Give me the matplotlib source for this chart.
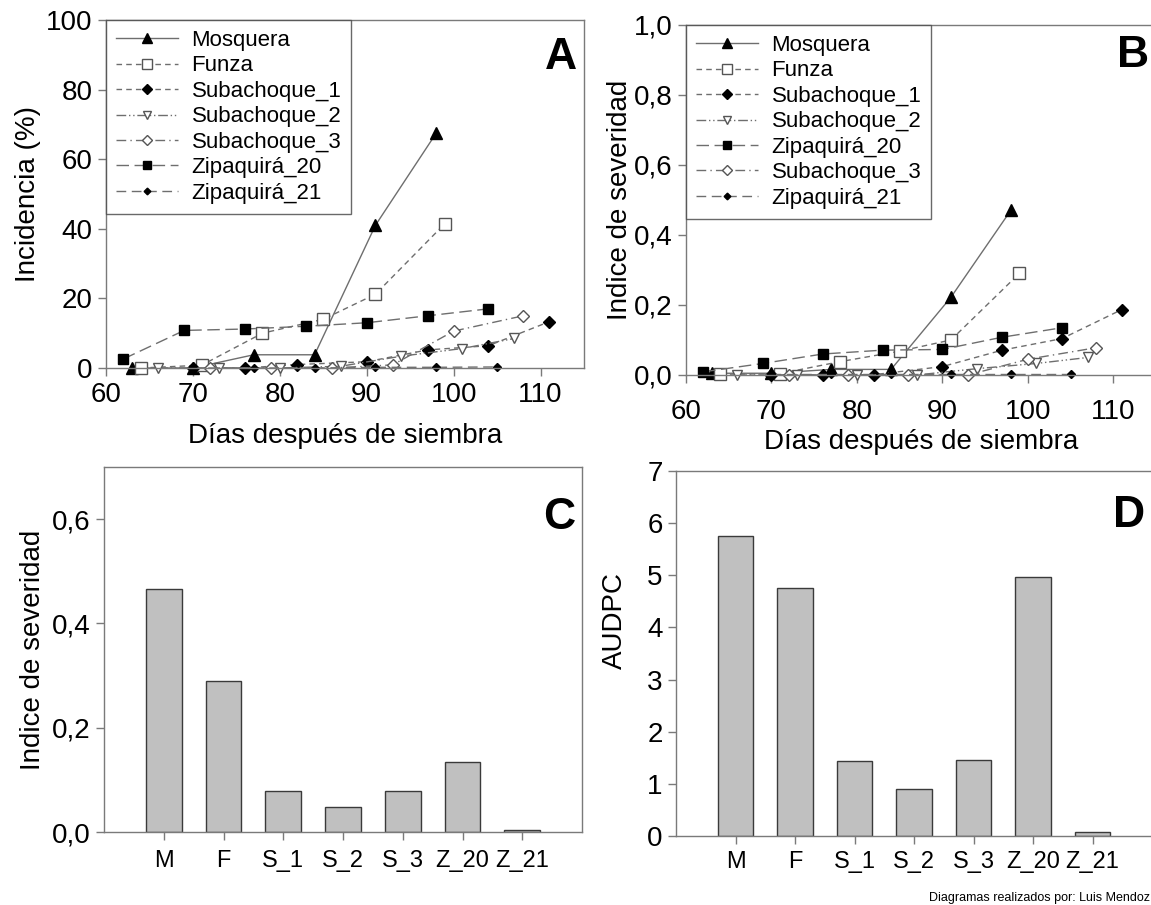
import numpy as np
import matplotlib
matplotlib.use("Agg")
import matplotlib.pyplot as plt

#******************
#   Data
#******************
# Panel A - incidencia (%)
mos_d = [63, 70, 77, 84, 91, 98]
mos_a = [0, 0, 3.8, 3.8, 41, 67.5]
fun_d = [64, 71, 78, 85, 91, 99]
fun_a = [0, 0.8, 10, 14, 21.2, 41.5]
s1_d = [70, 76, 82, 90, 97, 104, 111]
s1_a = [0, 0, 1.0, 1.8, 5.2, 6.4, 13.3]
s2_d = [66, 73, 80, 87, 94, 101, 107]
s2_a = [0, 0, 0, 0.5, 3.4, 5.6, 8.5]
s3_d = [72, 79, 86, 93, 100, 108]
s3_a = [0, 0, 0, 0.9, 10.6, 15.0]
z20_d = [62, 69, 76, 83, 90, 97, 104]
z20_a = [2.6, 10.8, 11.2, 12.0, 13.0, 15.0, 17.0]
z21_d = [70, 77, 84, 91, 98, 105]
z21_a = [0, 0, 0, 0.2, 0.2, 0.3]

# Panel B - indice de severidad
mos_b = [0.005, 0.005, 0.016, 0.016, 0.222, 0.47]
fun_b = [0.002, 0.004, 0.038, 0.068, 0.10, 0.29]
s1_b = [0, 0, 0.001, 0.024, 0.071, 0.104, 0.187]
s2_b = [0, 0, 0, 0, 0.018, 0.033, 0.05]
s3_b = [0, 0, 0, 0, 0.045, 0.078]
z20_b = [0.009, 0.033, 0.06, 0.071, 0.073, 0.108, 0.135]
z21_b = [0.002, 0.002, 0.002, 0.002, 0.002, 0.002]

# Panels C y D
sites = ["M", "F", "S_1", "S_2", "S_3", "Z_20", "Z_21"]
sev_final = [0.466, 0.290, 0.079, 0.048, 0.078, 0.135, 0.004]
audpc = [5.76, 4.75, 1.43, 0.91, 1.46, 4.97, 0.08]

xticks_ab = [60, 70, 80, 90, 100, 110]
yticks_a = [0, 20, 40, 60, 80, 100]
yticks_b = [0, 0.2, 0.4, 0.6, 0.8, 1.0]
ylabels_b = ["0,0", "0,2", "0,4", "0,6", "0,8", "1,0"]
yticks_c = [0, 0.2, 0.4, 0.6]
ylabels_c = ["0,0", "0,2", "0,4", "0,6"]
yticks_d = [0, 1, 2, 3, 4, 5, 6, 7]

#*******************
#   Aesthetics
#*******************
plt.rcParams["font.family"] = ["Liberation Sans", "DejaVu Sans"]
plt.rcParams["axes.edgecolor"] = "#7a7a7a"
plt.rcParams["xtick.color"] = "#7a7a7a"
plt.rcParams["ytick.color"] = "#7a7a7a"
plt.rcParams["xtick.labelcolor"] = "black"
plt.rcParams["ytick.labelcolor"] = "black"

W, H = 1151, 905
fig = plt.figure(figsize=(W / 100, H / 100), dpi=100)


def box(l, t, r, b):
    return [l / W, 1 - b / H, (r - l) / W, (b - t) / H]


axA = fig.add_axes(box(106, 20, 584, 368))
axB = fig.add_axes(box(686, 25, 1156, 375))
axC = fig.add_axes(box(104, 467, 582, 832))
axD = fig.add_axes(box(676, 471, 1152, 836))

lc = "#6e6e6e"
styles = {
    "Mosquera": dict(ls="-", marker="^", mfc="black", mec="black", ms=8),
    "Funza": dict(ls=(0, (4, 3)), marker="s", mfc="white", mec="#555555", ms=8),
    "Subachoque_1": dict(ls=(0, (4, 3)), marker="D", mfc="black", mec="black", ms=6),
    "Subachoque_2": dict(ls=(0, (7, 2, 1, 2, 1, 2)), marker="v", mfc="white", mec="#555555", ms=6.5),
    "Subachoque_3": dict(ls=(0, (7, 3, 1, 3)), marker="D", mfc="white", mec="#555555", ms=6),
    "Zipaquirá_20": dict(ls=(0, (9, 4)), marker="s", mfc="black", mec="black", ms=6.5),
    "Zipaquirá_21": dict(ls=(0, (7, 4)), marker="D", mfc="black", mec="black", ms=4),
}


def draw(ax, series, order):
    h = {}
    for name, d, v in series:
        st = styles[name]
        h[name], = ax.plot(d, v, color=lc, lw=1, ls=st["ls"], marker=st["marker"],
                           mfc=st["mfc"], mec=st["mec"], ms=st["ms"], mew=1, label=name,
                           clip_on=False)
    leg = ax.legend(handles=[h[n] for n in order], loc="upper left", fontsize=16,
                    frameon=True, fancybox=False, borderaxespad=0.0, handlelength=2.8,
                    labelspacing=0.2, borderpad=0.45, handletextpad=0.6, markerscale=0.85)
    leg.get_frame().set_edgecolor("#444444")
    leg.get_frame().set_linewidth(1)


names = ["Mosquera", "Funza", "Subachoque_1", "Subachoque_2", "Subachoque_3",
         "Zipaquirá_20", "Zipaquirá_21"]
draw(axA, [("Mosquera", mos_d, mos_a), ("Funza", fun_d, fun_a),
           ("Subachoque_1", s1_d, s1_a), ("Subachoque_2", s2_d, s2_a),
           ("Subachoque_3", s3_d, s3_a), ("Zipaquirá_20", z20_d, z20_a),
           ("Zipaquirá_21", z21_d, z21_a)], names)
draw(axB, [("Mosquera", mos_d, mos_b), ("Funza", fun_d, fun_b),
           ("Subachoque_1", s1_d, s1_b), ("Subachoque_2", s2_d, s2_b),
           ("Subachoque_3", s3_d, s3_b), ("Zipaquirá_20", z20_d, z20_b),
           ("Zipaquirá_21", z21_d, z21_b)],
     ["Mosquera", "Funza", "Subachoque_1", "Subachoque_2", "Zipaquirá_20",
      "Subachoque_3", "Zipaquirá_21"])

axA.set_xlim(60, 115)
axA.set_ylim(0, 100)
axA.set_xticks(xticks_ab)
axA.set_yticks(yticks_a)
axA.set_xlabel("Días después de siembra", fontsize=20, labelpad=11)
axA.set_ylabel("Incidencia (%)", fontsize=20)

axB.set_xlim(60, 115)
axB.set_ylim(0, 1.0)
axB.set_xticks(xticks_ab)
axB.set_yticks(yticks_b)
axB.set_yticklabels(ylabels_b)
axB.set_xlabel("Días después de siembra", fontsize=20, labelpad=3)
axB.set_ylabel("Indice de severidad", fontsize=20, labelpad=1)

#*******************
#   Bars
#*******************
pos = np.arange(1, len(sites) + 1)
axC.bar(pos, sev_final, width=0.6, color="#c0c0c0", edgecolor="#3a3a3a", lw=1)
axC.set_xlim(0, 8)
axC.set_ylim(0, 0.7)
axC.set_yticks(yticks_c)
axC.set_yticklabels(ylabels_c)
axC.set_xticks(pos)
axC.set_xticklabels(sites)
axC.set_ylabel("Indice de severidad", fontsize=20)

axD.bar(pos, audpc, width=0.6, color="#c0c0c0", edgecolor="#3a3a3a", lw=1)
axD.set_xlim(0, 8)
axD.set_ylim(0, 7)
axD.set_yticks(yticks_d)
axD.set_xticks(pos)
axD.set_xticklabels(sites)
axD.set_ylabel("AUDPC", fontsize=20)
axD.yaxis.set_label_coords(-0.1, 0.59)

for ax in (axA, axB, axC, axD):
    ax.tick_params(direction="out", length=6, width=1)
    ax.tick_params(axis="y", labelsize=20)
    for s in ax.spines.values():
        s.set_linewidth(1)
axA.tick_params(axis="x", labelsize=20, pad=4)
axB.tick_params(axis="x", labelsize=20, pad=11)
axC.tick_params(axis="x", labelsize=17, pad=7)
axD.tick_params(axis="x", labelsize=17, pad=5)

for ax, letter, yy in ((axA, "A", 0.905), (axB, "B", 0.925), (axC, "C", 0.875), (axD, "D", 0.89)):
    ax.text(0.985, yy, letter, transform=ax.transAxes, ha="right", va="center_baseline",
            fontsize=32, fontweight="bold")

fig.text(0.999, 0.001, "Diagramas realizados por: Luis Mendoz", ha="right", va="bottom",
         fontsize=9)

fig.savefig("out.png", dpi=100)
